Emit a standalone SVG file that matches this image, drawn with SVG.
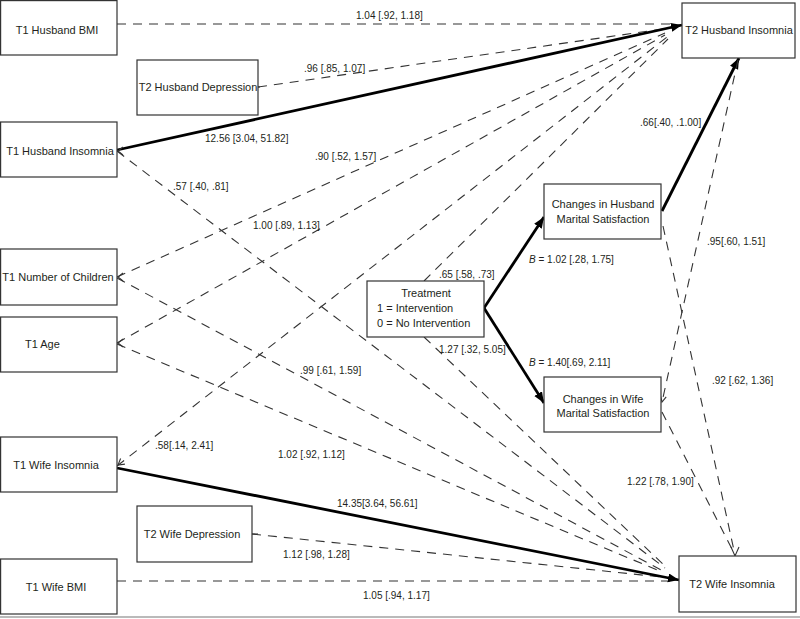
<svg xmlns="http://www.w3.org/2000/svg" width="800" height="619" viewBox="0 0 800 619">
<defs>
<style>
.box{fill:#fff;stroke:#333;stroke-width:1.2}
text{font-family:"Liberation Sans",Arial,sans-serif;font-size:11px;fill:#231f20}
.lb{font-size:10px}
.d{stroke:#333;stroke-width:1.1;stroke-dasharray:9 7;fill:none}
.s{stroke:#000;stroke-width:2.8;fill:none}
.t{stroke:#333;stroke-width:1.1;fill:none}
</style>
<marker id="ah" markerUnits="userSpaceOnUse" markerWidth="12" markerHeight="10" refX="11" refY="4.5" orient="auto">
<path d="M0,0 L11,4.5 L0,9 z" fill="#000"/>
</marker>
</defs>
<rect x="0" y="0" width="800" height="619" fill="#fff"/>
<line x1="0" y1="617" x2="800" y2="617" stroke="#777" stroke-width="1.2"/>
<g id="connectors">
<!-- to T2 Husband Insomnia -->
<path class="d" d="M117,24 L672,24"/>
<path class="d" d="M258,87 L663,29"/>
<path class="d" d="M117,277 L665,33"/>
<path class="d" d="M117,343 L665,35"/>
<path class="d" d="M424,281 L668,39"/>
<path class="d" d="M117,466 L667,37"/>
<path class="s" d="M117,150 L682,25" marker-end="url(#ah)"/>
<!-- to T2 Wife Insomnia -->
<path class="d" d="M117,581 L670,581"/>
<path class="d" d="M252,534 L661,577"/>
<path class="d" d="M117,151 L665,568"/>
<path class="d" d="M117,278 L663,571"/>
<path class="d" d="M117,344 L662,572"/>
<path class="d" d="M424,337 L666,567"/>
<path class="s" d="M117,468 L679,580" marker-end="url(#ah)"/>
<!-- mediators -->
<path class="s" d="M484,308 L544,217" marker-end="url(#ah)"/>
<path class="s" d="M484,308 L544,403" marker-end="url(#ah)"/>
<path class="s" d="M662,211 L739,58" marker-end="url(#ah)"/>
<path class="d" d="M663,226 L735,555"/>
<path class="d" d="M662,412 L735,555"/>
<path class="d" d="M738,60 L662,402"/>
<!-- small arrow tips -->
<path class="t" d="M123,147 L118,151 L123,155"/>
<path class="t" d="M123,273 L118,277 L123,281"/>
<path class="t" d="M123,339 L118,343 L123,347"/>
<path class="t" d="M120.6,458.5 L118,465 L124.9,464.1"/>
<path class="t" d="M254,87 L260,87"/>
<path class="t" d="M252,534 L258,534"/>
<path class="t" d="M660.4,395.4 L662,402 L666.2,396.8"/>
<path class="t" d="M731,547 L735,556 L739,547"/>
<!-- labels -->
<text class="lb" x="356" y="19">1.04 [.92, 1.18]</text>
<text class="lb" x="304" y="72">.96 [.85, 1.07]</text>
<text class="lb" x="205" y="142">12.56 [3.04, 51.82]</text>
<text class="lb" x="315" y="160">.90 [.52, 1.57]</text>
<text class="lb" x="173" y="190">.57 [.40, .81]</text>
<text class="lb" x="253" y="229">1.00 [.89, 1.13]</text>
<text class="lb" x="439" y="278">.65 [.58, .73]</text>
<text class="lb" x="439" y="353">1.27 [.32, 5.05]</text>
<text class="lb" x="529" y="263"><tspan font-style="italic">B</tspan> = 1.02 [.28, 1.75]</text>
<text class="lb" x="529" y="366"><tspan font-style="italic">B</tspan> = 1.40[.69, 2.11]</text>
<text class="lb" x="640" y="126">.66[.40, .1.00]</text>
<text class="lb" x="707" y="245">.95[.60, 1.51]</text>
<text class="lb" x="712" y="384">.92 [.62, 1.36]</text>
<text class="lb" x="627" y="485">1.22 [.78, 1.90]</text>
<text class="lb" x="300" y="374">.99 [.61, 1.59]</text>
<text class="lb" x="155" y="449">.58[.14, 2.41]</text>
<text class="lb" x="278" y="458">1.02 [.92, 1.12]</text>
<text class="lb" x="337" y="507">14.35[3.64, 56.61]</text>
<text class="lb" x="283" y="558">1.12 [.98, 1.28]</text>
<text class="lb" x="363" y="599">1.05 [.94, 1.17]</text>
</g>
<g id="t1-husband-bmi"><rect class="box" x="0.6" y="0.6" width="116.4" height="54.4"/><text x="57" y="34" text-anchor="middle">T1 Husband BMI</text></g>
<g id="t2-husband-depression"><rect class="box" x="137" y="60" width="121" height="55"/><text x="198" y="91" text-anchor="middle">T2 Husband Depression</text></g>
<g id="t1-husband-insomnia"><rect class="box" x="0.6" y="122" width="116.4" height="55"/><text x="60" y="155" text-anchor="middle">T1 Husband Insomnia</text></g>
<g id="t1-number-of-children"><rect class="box" x="0.6" y="249" width="116.4" height="56"/><text x="58" y="281" text-anchor="middle">T1 Number of Children</text></g>
<g id="t1-age"><rect class="box" x="0.6" y="317" width="116.4" height="55"/><text x="25" y="348">T1 Age</text></g>
<g id="t1-wife-insomnia"><rect class="box" x="0.6" y="437" width="116.4" height="55"/><text x="56" y="469" text-anchor="middle">T1 Wife Insomnia</text></g>
<g id="t2-wife-depression"><rect class="box" x="137" y="506" width="115" height="56"/><text x="192" y="538" text-anchor="middle">T2 Wife Depression</text></g>
<g id="t1-wife-bmi"><rect class="box" x="0.6" y="559" width="116.4" height="55"/><text x="56" y="591" text-anchor="middle">T1 Wife BMI</text></g>
<g id="t2-husband-insomnia"><rect class="box" x="682" y="3" width="113" height="55"/><text x="739" y="34" text-anchor="middle">T2 Husband Insomnia</text></g>
<g id="t2-wife-insomnia"><rect class="box" x="679" y="556" width="117" height="56"/><text x="732" y="588" text-anchor="middle">T2 Wife Insomnia</text></g>
<g id="changes-husband"><rect class="box" x="544" y="184" width="117" height="55"/><text x="603" y="208" text-anchor="middle">Changes in Husband</text><text x="603" y="223" text-anchor="middle">Marital Satisfaction</text></g>
<g id="changes-wife"><rect class="box" x="544" y="377" width="117" height="55"/><text x="603" y="403" text-anchor="middle">Changes in Wife</text><text x="603" y="417" text-anchor="middle">Marital Satisfaction</text></g>
<g id="treatment"><rect class="box" x="367" y="281" width="117" height="56"/><text x="426" y="297" text-anchor="middle">Treatment</text><text x="377" y="312">1 = Intervention</text><text x="377" y="327">0 = No Intervention</text></g>
</svg>
